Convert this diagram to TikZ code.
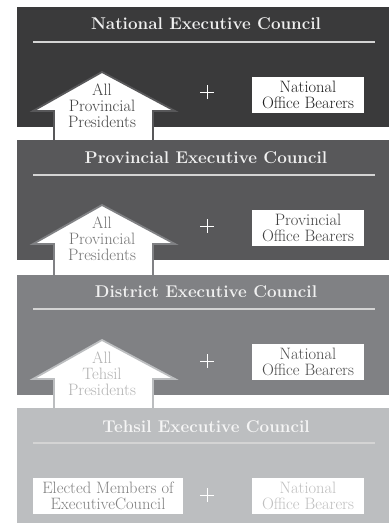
\documentclass[tikz,border=0pt]{standalone}
\definecolor{pA}{HTML}{3A3A3B}
\definecolor{pB}{HTML}{58585A}
\definecolor{pC}{HTML}{808184}
\definecolor{pD}{HTML}{BCBEC0}
\definecolor{rulec}{HTML}{D4D4D4}
\tikzset{
  panel/.style={fill=#1, draw=none, minimum width=372pt, minimum height=120pt, anchor=north west, inner sep=0pt},
  ptitle/.style={text=#1, font=\fontsize{17}{19}\selectfont\bfseries, anchor=center},
  prule/.style={draw=rulec, line width=1.5pt},
  harrow/.style={fill=white, draw=#1, line width=1.8pt, line join=miter},
  atext/.style={text=#1, font=\fontsize{16.5}{16}\selectfont, align=center, anchor=center},
  wbox/.style={fill=white, draw=none, minimum width=112pt, minimum height=36pt, inner sep=0pt, align=center, font=\fontsize{16.5}{16}\selectfont, text=#1},
  plus/.style={draw=white, line width=0.8pt},
}
\begin{document}
\begin{tikzpicture}[x=1pt,y=-1pt]
\useasboundingbox (0,0) rectangle (389,524);
% ---------- Panel 1
\node[panel=pA] (p1) at (17,7) {};
\node[ptitle=white!94!black] (t1) at (206,24) {National Executive Council};
\draw[prule] (33,42) coordinate (r1a) -- (375,42) coordinate (r1b);
\draw[harrow=pB] (54,142) -- (54,111) -- (33,111) -- (102,72) -- (175,111) -- (153,111) -- (153,142);
\node[atext=black!75] (a1) at (102,106) {All\\Provincial\\Presidents};
\draw[plus] (200,92) -- (214,92) (207,85) -- (207,99);
\node[wbox=black!88] (b1) at (308,95) {National\\Office Bearers};
% ---------- Panel 2
\node[panel=pB] (p2) at (17,140) {};
\node[ptitle=white!94!black] (t2) at (206,158) {Provincial Executive Council};
\draw[prule] (33,175) coordinate (r2a) -- (375,175) coordinate (r2b);
\draw[harrow=pC] (54,277) -- (54,244) -- (33,244) -- (102,205) -- (175,244) -- (153,244) -- (153,277);
\node[atext=black!55] (a2) at (102,239) {All\\Provincial\\Presidents};
\draw[plus] (200,226) -- (214,226) (207,219) -- (207,233);
\node[wbox=black!75] (b2) at (308,228) {Provincial\\Office Bearers};
% ---------- Panel 3
\node[panel=pC] (p3) at (17,275) {};
\node[ptitle=white!94!black] (t3) at (206,292) {District Executive Council};
\draw[prule] (33,309) coordinate (r3a) -- (375,309) coordinate (r3b);
\draw[harrow=pD] (54,410) -- (54,379) -- (33,379) -- (102,340) -- (175,379) -- (153,379) -- (153,410);
\node[atext=black!30] (a3) at (102,374) {All\\Tehsil\\Presidents};
\draw[plus] (200,361) -- (214,361) (207,354) -- (207,368);
\node[wbox=black!70] (b3) at (308,362) {National\\Office Bearers};
% ---------- Panel 4
\node[panel=pD, minimum height=115pt] (p4) at (17,408) {};
\node[ptitle=white!96!black] (t4) at (206,427) {Tehsil Executive Council};
\draw[prule] (33,443) coordinate (r4a) -- (375,443) coordinate (r4b);
\node[wbox=black!50, minimum width=150pt] (b4a) at (108,496) {Elected Members of\\ExecutiveCouncil};
\draw[plus] (200,495) -- (214,495) (207,488) -- (207,502);
\node[wbox=black!25] (b4b) at (308,496) {National\\Office Bearers};
\end{tikzpicture}
\end{document}
